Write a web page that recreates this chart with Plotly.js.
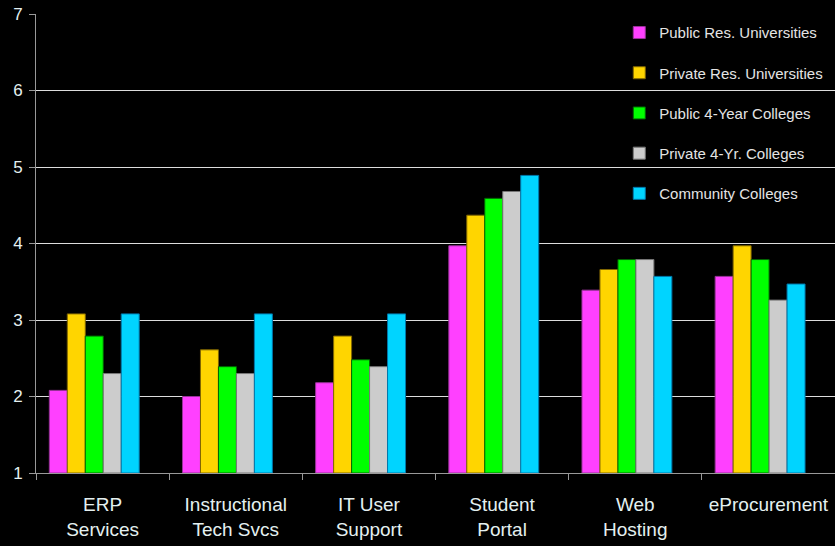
<!DOCTYPE html>
<html><head><meta charset="utf-8">
<script src="https://cdn.plot.ly/plotly-3.0.1.min.js"></script>
<style>html,body{margin:0;padding:0;background:#000;}</style>
</head><body>
<div id="chart" style="width:835px;height:546px;"></div>
<script>
const categories = ["ERP<br>Services", "Instructional<br>Tech Svcs", "IT User<br>Support", "Student<br>Portal", "Web<br>Hosting", "eProcurement<br> "];
const seriesNames = ["Public Res. Universities", "Private Res. Universities", "Public 4-Year Colleges", "Private 4-Yr. Colleges", "Community Colleges"];
const publicRes = [2.08, 2.0, 2.18, 3.97, 3.39, 3.57];
const privateRes = [3.08, 2.61, 2.79, 4.37, 3.66, 3.97];
const public4 = [2.79, 2.39, 2.48, 4.59, 3.79, 3.79];
const private4 = [2.30, 2.30, 2.39, 4.68, 3.79, 3.26];
const community = [3.08, 3.08, 3.08, 4.89, 3.57, 3.47];
const colors = ["#FF40FF", "#FFD500", "#00FF00", "#CCCCCC", "#00D4FF"];
const lineColors = ["#993399", "#806600", "#006600", "#777777", "#0077AA"];
const allSeries = [publicRes, privateRes, public4, private4, community];

const barW = 0.135;
const traces = allSeries.map((vals, i) => ({
  type: "bar",
  name: seriesNames[i],
  x: categories,
  y: vals.map(v => v - 1),
  base: 1,
  width: barW,
  offset: -0.4 + i * barW,
  legendgroup: "g" + i,
  marker: {color: colors[i], line: {color: lineColors[i], width: 1}},
  hoverinfo: "y+name"
}));

const layout = {
  width: 835, height: 546,
  paper_bgcolor: "#000", plot_bgcolor: "#000",
  margin: {l: 36, r: 0, t: 14, b: 73},
  barmode: "overlay",
  font: {family: "Liberation Sans, Arial, sans-serif", color: "#E4F0F0"},
  xaxis: {
    showgrid: false,
    showline: true, linecolor: "#999", linewidth: 1,
    ticks: "outside", tickson: "boundaries", ticklen: 6, tickcolor: "#999",
    tickfont: {size: 19, color: "#E4F0F0"},
    ticklabelstandoff: 14,
    tickangle: 0,
    automargin: false
  },
  yaxis: {
    range: [1, 7], dtick: 1, tick0: 1,
    showgrid: true, gridcolor: "#DDDDDD", gridwidth: 1,
    showline: true, linecolor: "#999", linewidth: 1,
    ticks: "outside", ticklen: 6, tickcolor: "#999",
    tickfont: {size: 17, color: "#E4F0F0"},
    ticklabelstandoff: 3,
    zeroline: false,
    automargin: false
  },
  legend: {
    x: 0.73, y: 0.995, xanchor: "left", yanchor: "top",
    bgcolor: "rgba(0,0,0,0)",
    font: {size: 15, color: "#E4E4E4"},
    tracegroupgap: 17.7,
    itemwidth: 30
  },
  showlegend: true
};
Plotly.newPlot("chart", traces, layout, {displayModeBar: false, staticPlot: true});
</script>
</body></html>
